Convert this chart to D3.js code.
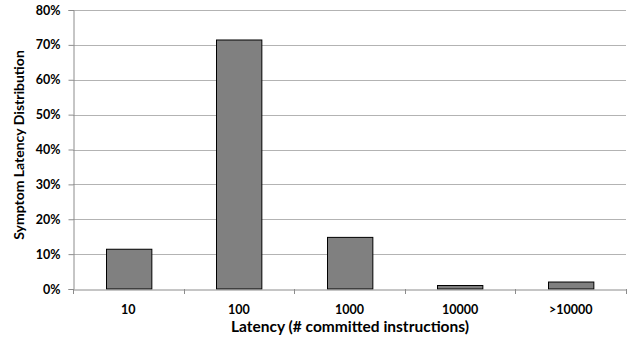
<!DOCTYPE html>
<html><head><meta charset="utf-8">
<script src="https://cdn.jsdelivr.net/npm/d3@7"></script>
<style>body{margin:0;background:#fff}svg{display:block}text{font-family:Lato,"Open Sans",sans-serif;font-weight:bold;fill:#000}</style>
</head><body>
<script>
const categories = ["10", "100", "1000", "10000", ">10000"];
const values = [0.114, 0.714, 0.148, 0.010, 0.020];
const yTicks = [0, 0.1, 0.2, 0.3, 0.4, 0.5, 0.6, 0.7, 0.8];

const W = 632, H = 343;
const m = {left: 73, right: 6, top: 10, bottom: 54};
const svg = d3.select("body").append("svg").attr("width", W).attr("height", H);
const x = d3.scaleBand().domain(categories).range([m.left, W - m.right]).paddingInner(0.59).paddingOuter(0.295);
const xb = d3.scaleBand().domain(categories).range([m.left, W - m.right]);
const y = d3.scaleLinear().domain([0, 0.8]).range([H - m.bottom, m.top]);

// gridlines
svg.append("g").selectAll("line").data(yTicks.slice(1)).join("line")
  .attr("x1", m.left).attr("x2", W - m.right)
  .attr("y1", d => Math.round(y(d)) + 0.5).attr("y2", d => Math.round(y(d)) + 0.5)
  .attr("stroke", "#b3b3b3").attr("stroke-width", 1);

// y axis
const ya = svg.append("g").attr("transform", `translate(${m.left + 0.5},0)`)
  .call(d3.axisLeft(y).tickValues(yTicks).tickFormat(d3.format(".0%")).tickSize(5).tickPadding(8));
ya.select(".domain").attr("stroke", "#8c8c8c");
ya.selectAll(".tick line").attr("stroke", "#8c8c8c");
ya.selectAll("text").style("font-size", "12.5px");

// bars
svg.append("g").selectAll("rect").data(values).join("rect")
  .attr("x", (d, i) => Math.round(x(categories[i])) + 0.5)
  .attr("width", x.bandwidth())
  .attr("y", d => y(d))
  .attr("height", d => y(0) - y(d))
  .attr("fill", "#808080").attr("stroke", "#000").attr("stroke-width", 1);

// x axis
const xa = svg.append("g").attr("transform", `translate(0,${Math.round(y(0)) + 0.5})`)
  .call(d3.axisBottom(xb).tickSize(0).tickPadding(16));
xa.select(".domain").attr("stroke", "#8c8c8c");
xa.selectAll("text").style("font-size", "12.5px");
svg.append("g").selectAll("line").data(d3.range(categories.length + 1)).join("line")
  .attr("x1", i => Math.round(m.left + i * xb.step()) + 0.5).attr("x2", i => Math.round(m.left + i * xb.step()) + 0.5)
  .attr("y1", y(0)).attr("y2", y(0) + 5).attr("stroke", "#8c8c8c");

// titles
svg.append("text").attr("x", 350).attr("y", 332)
  .attr("text-anchor", "middle").style("font-size", "15.5px").text("Latency (# committed instructions)");
svg.append("text").attr("transform", `translate(24,145) rotate(-90)`)
  .attr("text-anchor", "middle").style("font-size", "14px").text("Symptom Latency Distribution");
</script>
</body></html>
